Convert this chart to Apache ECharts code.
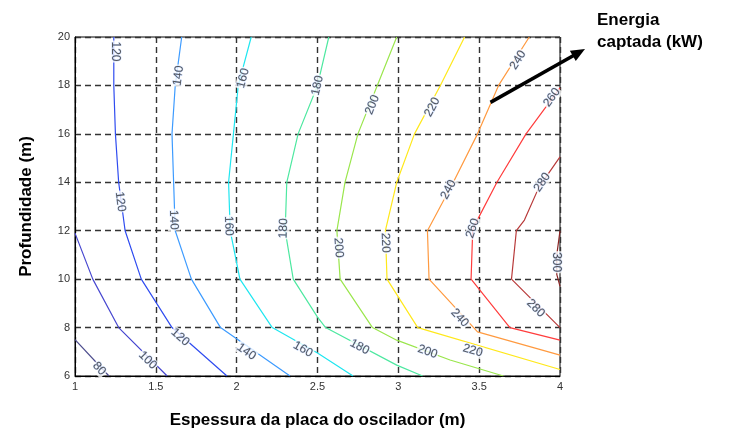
<!DOCTYPE html>
<html>
<head>
<meta charset="utf-8">
<script src="https://cdn.jsdelivr.net/npm/echarts@6/dist/echarts.min.js"></script>
<style>
  html, body { margin: 0; padding: 0; background: #fff; }
  #chart { width: 736px; height: 437px; }
</style>
</head>
<body>
<div id="chart"></div>
<script>
// níveis de energia captada (kW)
const levels = [80, 100, 120, 140, 160, 180, 200, 220, 240, 260, 280, 300];

// curvas de nível: [espessura (m), profundidade (m)]
const c80 = [[1, 7.5], [1.21, 6]];
const c100 = [[1, 11.9], [1.11, 10], [1.27, 8], [1.57, 6]];
const c120 = [[1.24, 20], [1.24, 18], [1.25, 16], [1.27, 14], [1.31, 12], [1.41, 10], [1.6, 8], [1.94, 6]];
const c140 = [[1.66, 20], [1.62, 18], [1.6, 16], [1.61, 14], [1.62, 12], [1.72, 10], [1.9, 8], [2.33, 6]];
const c160 = [[2.09, 20], [2.01, 18], [1.98, 16], [1.95, 14], [1.96, 12], [2.02, 10], [2.22, 8], [2.5, 6.95], [2.72, 6]];
const c180 = [[2.57, 20], [2.5, 18], [2.38, 16], [2.31, 14], [2.3, 12], [2.35, 10], [2.5, 8.43], [2.55, 8], [2.99, 6.45], [3.15, 6]];
const c200 = [[2.99, 20], [2.87, 18], [2.75, 16], [2.67, 14], [2.62, 12], [2.64, 10], [2.84, 8], [2.99, 7.48], [3.32, 6.66], [3.65, 6]];
const c220 = [[3.41, 20], [3.26, 18], [3.1, 16], [2.99, 14], [2.92, 12], [2.93, 10], [3.12, 8], [4, 6.27]];
const c240 = [[3.81, 20], [3.62, 18], [3.49, 16], [3.34, 14], [3.18, 12], [3.19, 10], [3.49, 7.82], [4, 6.86]];
const c260 = [[4, 17.9], [3.79, 16], [3.61, 14], [3.47, 12.2], [3.46, 12], [3.45, 10], [3.69, 8], [4, 7.48]];
const c280 = [[4, 15.05], [3.87, 13.8], [3.78, 12.44], [3.73, 12], [3.7, 10], [4, 8]];
const c300 = [[4, 12], [3.98, 11], [3.98, 10.2], [4, 9.7]];

const contours = [c80, c100, c120, c140, c160, c180, c200, c220, c240, c260, c280, c300];

// rótulos das curvas: [x, y, nível]
const labelPts = [
  [1.15, 6.3, 80], [1.45, 6.65, 100],
  [1.25, 19.4, 120], [1.28, 13.2, 120], [1.65, 7.6, 120],
  [1.64, 18.4, 140], [1.61, 12.45, 140], [2.06, 7.0, 140],
  [2.04, 18.3, 160], [1.95, 12.2, 160], [2.41, 7.1, 160],
  [2.5, 18.0, 180], [2.29, 12.1, 180], [2.76, 7.2, 180],
  [2.84, 17.2, 200], [2.63, 11.3, 200], [3.18, 7.0, 200],
  [3.21, 17.1, 220], [2.92, 11.5, 220], [3.46, 7.05, 220],
  [3.74, 19.05, 240], [3.31, 13.7, 240], [3.38, 8.4, 240],
  [3.95, 17.5, 260], [3.46, 12.1, 260],
  [3.89, 14.0, 280], [3.85, 8.8, 280],
  [3.98, 10.7, 300]
];

const colors = ['#4b4b8c', '#4848d0', '#2f4cf0', '#3d9bff', '#1ee6f0', '#4de8a0',
                '#9ae64c', '#ffe81a', '#ff9a40', '#ff3c3c', '#b83a3a', '#8b2525'];

const chart = echarts.init(document.getElementById('chart'));

const gridLine = { show: true, lineStyle: { color: '#333', width: 1.4, type: [6, 4] } };
const tickLabel = { color: '#333', fontSize: 11, fontFamily: 'Liberation Sans, Arial', margin: 5 };
const nameStyle = { color: '#000', fontSize: 17, fontWeight: 'bold', fontFamily: 'Liberation Sans, Arial' };

chart.setOption({
  animation: false,
  grid: { left: 75, right: 176, top: 37, bottom: 61, show: true, borderColor: '#000', borderWidth: 1 },
  xAxis: {
    type: 'value', min: 1, max: 4, interval: 0.5,
    name: 'Espessura da placa do oscilador (m)', nameLocation: 'middle', nameGap: 36, nameTextStyle: nameStyle,
    axisLine: { show: true, lineStyle: { color: '#000' } },
    axisTick: { show: false },
    axisLabel: tickLabel,
    splitLine: gridLine
  },
  yAxis: {
    type: 'value', min: 6, max: 20, interval: 2,
    name: 'Profundidade (m)', nameLocation: 'middle', nameGap: 40, nameTextStyle: nameStyle,
    axisLine: { show: true, lineStyle: { color: '#000' } },
    axisTick: { show: false },
    axisLabel: tickLabel,
    splitLine: gridLine
  },
  series: contours.map((c, i) => ({
    type: 'line',
    name: String(levels[i]),
    data: c,
    showSymbol: false,
    lineStyle: { color: colors[i], width: 1.2 },
    z: 3
  }))
});

// ângulo de cada rótulo segue a curva, em pixels
function labelAngle(pt) {
  const c = contours[levels.indexOf(pt[2])];
  const p = chart.convertToPixel({ gridIndex: 0 }, [pt[0], pt[1]]);
  let best = null, bestD = Infinity;
  for (let k = 0; k < c.length - 1; k++) {
    const a = chart.convertToPixel({ gridIndex: 0 }, c[k]);
    const b = chart.convertToPixel({ gridIndex: 0 }, c[k + 1]);
    const dx = b[0] - a[0], dy = b[1] - a[1];
    let t = ((p[0] - a[0]) * dx + (p[1] - a[1]) * dy) / (dx * dx + dy * dy);
    t = Math.max(0, Math.min(1, t));
    const qx = a[0] + t * dx - p[0], qy = a[1] + t * dy - p[1];
    const d = qx * qx + qy * qy;
    if (d < bestD) { bestD = d; best = [dx, dy]; }
  }
  let ang = Math.atan2(-best[1], best[0]) * 180 / Math.PI;
  if (ang > 90) ang -= 180;
  if (ang < -90) ang += 180;
  return ang;
}

const start = chart.convertToPixel({ gridIndex: 0 }, [3.57, 17.3]);
const tip = [585, 49];
const ang = Math.atan2(tip[1] - start[1], tip[0] - start[0]);
const hl = 14, hw = 6;
const head = [
  tip,
  [tip[0] - hl * Math.cos(ang) + hw * Math.sin(ang), tip[1] - hl * Math.sin(ang) - hw * Math.cos(ang)],
  [tip[0] - hl * Math.cos(ang) - hw * Math.sin(ang), tip[1] - hl * Math.sin(ang) + hw * Math.cos(ang)]
];

chart.setOption({
  series: contours.map(() => ({})).concat([{
    type: 'scatter',
    symbolSize: 1,
    itemStyle: { color: 'rgba(0,0,0,0)' },
    z: 5,
    data: labelPts.map(pt => ({
      value: [pt[0], pt[1]],
      lvl: pt[2],
      label: { rotate: labelAngle(pt) }
    })),
    label: {
      show: true,
      position: 'inside',
      formatter: p => String(p.data.lvl),
      color: '#333',
      fontSize: 12,
      fontFamily: 'Liberation Sans, Arial',
      backgroundColor: '#fff',
      padding: [0, 1],
      textBorderColor: 'rgba(110,160,255,0.4)',
      textBorderWidth: 1
    }
  }]),
  graphic: [
    {
      type: 'line', z: 100,
      shape: { x1: start[0], y1: start[1], x2: tip[0] - 8 * Math.cos(ang), y2: tip[1] - 8 * Math.sin(ang) },
      style: { stroke: '#000', lineWidth: 3.5 }
    },
    { type: 'polygon', z: 100, shape: { points: head }, style: { fill: '#000' } },
    {
      type: 'text', left: 597, top: 9, z: 100,
      style: {
        text: 'Energia\ncaptada (kW)',
        font: 'bold 17px "Liberation Sans", Arial',
        fill: '#000',
        lineHeight: 22
      }
    }
  ]
});
</script>
</body>
</html>
